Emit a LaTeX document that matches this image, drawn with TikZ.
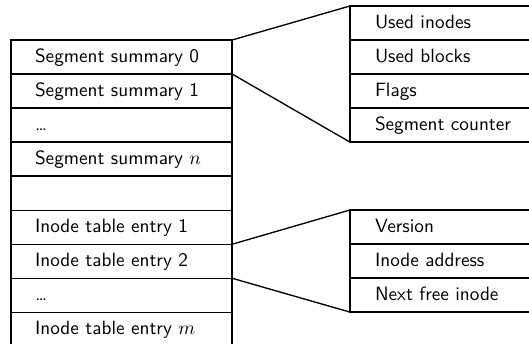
\documentclass[tikz,border=0pt]{standalone}
\usepackage{amsmath, amssymb}
\usetikzlibrary{positioning}
\tikzset{
  leftrow/.style={draw, line width=0.7pt, outer sep=0pt, minimum width=115pt, minimum height=17.7pt, text width=90pt, inner xsep=12.5pt, align=left, text height=1.6ex, text depth=.3ex, font=\sffamily},
  rightrow/.style={draw, line width=0.7pt, outer sep=0pt, minimum width=110pt, minimum height=17.7pt, text width=84pt, inner xsep=13pt, align=left, text height=1.6ex, text depth=.3ex, font=\sffamily},
  zoomline/.style={line width=0.7pt}
}
\begin{document}
\begin{tikzpicture}[x=0.52pt, y=-0.52pt, node distance=0pt]
  \useasboundingbox (0,0) rectangle (529,344);
  \clip (0,0) rectangle (529,344);
  % segment summaries and inode table
  \node[leftrow, anchor=north west] (s0) at (11,40) {Segment summary 0};
  \node[leftrow, below=of s0] (s1) {Segment summary 1};
  \node[leftrow, below=of s1] (sdots) {\dots};
  \node[leftrow, below=of sdots] (sn) {Segment summary $n$};
  \node[leftrow, below=of sn] (gap) {};
  \node[leftrow, below=of gap] (i1) {Inode table entry 1};
  \node[leftrow, below=of i1] (i2) {Inode table entry 2};
  \node[leftrow, below=of i2] (idots) {\dots};
  \node[leftrow, below=of idots] (im) {Inode table entry $m$};
  % segment summary fields
  \node[rightrow, anchor=north west] (usedinodes) at (350,6) {Used inodes};
  \node[rightrow, below=of usedinodes] (usedblocks) {Used blocks};
  \node[rightrow, below=of usedblocks] (flags) {Flags};
  \node[rightrow, below=of flags] (segcounter) {Segment counter};
  % inode table entry fields
  \node[rightrow, anchor=north west] (version) at (350,210) {Version};
  \node[rightrow, below=of version] (inodeaddr) {Inode address};
  \node[rightrow, below=of inodeaddr] (nextfree) {Next free inode};
  \draw[zoomline] (s0.north east) -- (usedinodes.north west);
  \draw[zoomline] (s0.south east) -- (segcounter.south west);
  \draw[zoomline] (i2.north east) -- (version.north west);
  \draw[zoomline] (i2.south east) -- (nextfree.south west);
\end{tikzpicture}
\end{document}
